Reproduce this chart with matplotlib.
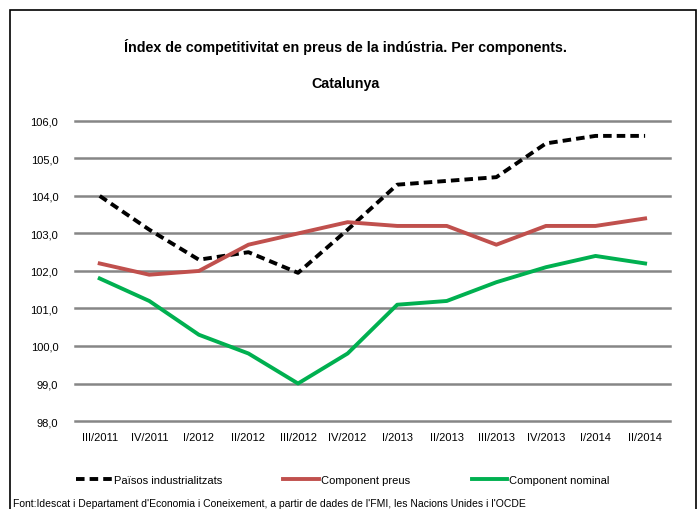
import matplotlib
matplotlib.use('Agg')
import matplotlib.pyplot as plt
from matplotlib.patches import Rectangle
from matplotlib.lines import Line2D

plt.rcParams['font.family'] = ['Liberation Sans', 'DejaVu Sans']

trimestres = ['III/2011', 'IV/2011', 'I/2012', 'II/2012', 'III/2012', 'IV/2012',
              'I/2013', 'II/2013', 'III/2013', 'IV/2013', 'I/2014', 'II/2014']
paisos = [104.0, 103.1, 102.3, 102.5, 101.95, 103.1, 104.3, 104.4, 104.5, 105.4, 105.6, 105.6]
preus = [102.2, 101.9, 102.0, 102.7, 103.0, 103.3, 103.2, 103.2, 102.7, 103.2, 103.2, 103.4]
nominal = [101.8, 101.2, 100.3, 99.8, 99.0, 99.8, 101.1, 101.2, 101.7, 102.1, 102.4, 102.2]
yticks = [98, 99, 100, 101, 102, 103, 104, 105, 106]

fig = plt.figure(figsize=(7, 5.1), dpi=100)
ax = fig.add_axes([0.107, 0.1725, 0.85, 0.5885])

x = range(len(trimestres))
ax.plot(x, paisos, color='black', lw=2.8, ls=(0, (2.2, 1.3)), label='Països industrialitzats', zorder=3)
ax.plot(x, preus, color='#c0504d', lw=2.8, label='Component preus', zorder=3)
ax.plot(x, nominal, color='#00b050', lw=2.8, label='Component nominal', zorder=3)

ax.set_ylim(98, 106)
ax.set_xlim(-0.5, len(trimestres) - 0.5)
ax.set_yticks(yticks)
ax.set_yticklabels([f'{v:.1f}'.replace('.', ',') for v in yticks], fontsize=8)
ax.set_xticks(list(x))
ax.set_xticklabels(trimestres, fontsize=8)
ax.tick_params(length=0, pad=12)
ax.tick_params(axis='x', pad=8)
ax.grid(axis='y', color='#868686', lw=1.8)
for gl in ax.get_ygridlines():
    gl.set_clip_on(False)
ax.set_axisbelow(True)
for s in ax.spines.values():
    s.set_visible(False)

fig.text(0.493, 0.908, 'Índex de competitivitat en preus de la indústria. Per components.',
         ha='center', va='center', fontsize=10.3, fontweight='bold')
fig.text(0.493, 0.835, 'Catalunya', ha='center', va='center', fontsize=10.3, fontweight='bold')

handles = [Line2D([], [], color='black', lw=2.8, ls=(0, (2.2, 1.3))),
           Line2D([], [], color='#c0504d', lw=2.8),
           Line2D([], [], color='#00b050', lw=2.8)]
fig.legend(handles, ['Països industrialitzats', 'Component preus', 'Component nominal'],
           loc='center', bbox_to_anchor=(0.49, 0.057), ncol=3, frameon=False,
           fontsize=8, handlelength=3.2, handletextpad=0.2, columnspacing=5.5)

fig.patches.append(Rectangle((10 / 700, -0.1), 686 / 700, 1.1 - 11 / 510,
                             transform=fig.transFigure, fill=False, ec='black', lw=1.2))
fig.text(13 / 700, 0.001, "Font:Idescat i Departament d'Economia i Coneixement, a partir de dades de l'FMI, les Nacions Unides i l'OCDE",
         ha='left', va='bottom', fontsize=7.5)

fig.savefig('out.png', dpi=100)
